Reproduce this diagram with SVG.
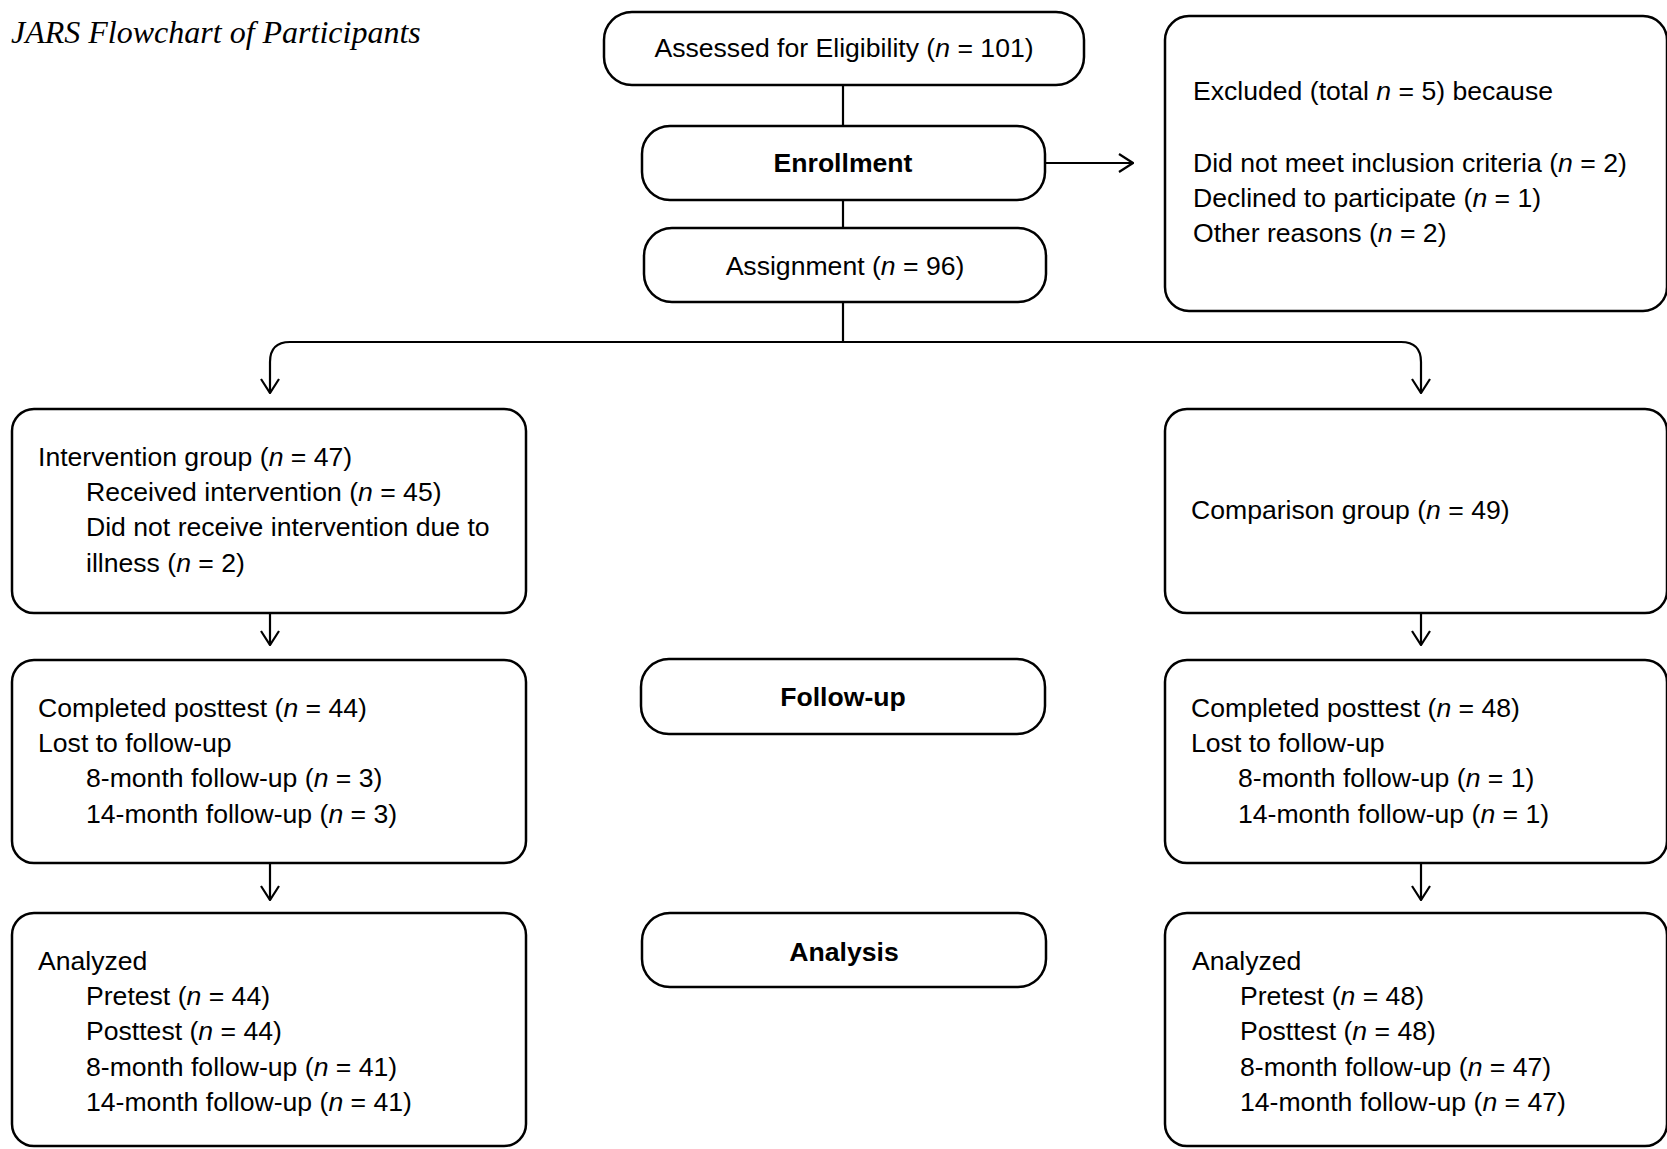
<svg xmlns="http://www.w3.org/2000/svg" width="1667" height="1149" viewBox="0 0 1667 1149">
<defs>
<style>
.box{fill:#fff;stroke:#000;stroke-width:2.5}
.t{font-family:"Liberation Sans",Arial,sans-serif;font-size:26.6px;fill:#000}
.c{text-anchor:middle}
.b{font-weight:bold}
.i{font-style:italic}
.ln{fill:none;stroke:#000;stroke-width:2.2}
.title{font-family:"Liberation Serif","Times New Roman",serif;font-style:italic;font-size:32px;fill:#000}
</style>
<marker id="ah" viewBox="0 0 20 20" refX="19" refY="10" markerWidth="20" markerHeight="20" markerUnits="userSpaceOnUse" orient="auto">
<path d="M5,1 L19,10 L5,19" fill="none" stroke="#000" stroke-width="2.2"/>
</marker>
</defs>
<rect width="1667" height="1149" fill="#fff"/>
<text class="title" x="11" y="43">JARS Flowchart of Participants</text>

<g id="connectors">
<path class="ln" d="M843,85 V126"/>
<path class="ln" d="M843,200 V228"/>
<path class="ln" d="M843,302 V342"/>
<path class="ln" d="M1045,163 H1133" marker-end="url(#ah)"/>
<path class="ln" d="M843,342 H290 Q270,342 270,362 V393" marker-end="url(#ah)"/>
<path class="ln" d="M843,342 H1401 Q1421,342 1421,362 V393" marker-end="url(#ah)"/>
<path class="ln" d="M270,613 V645" marker-end="url(#ah)"/>
<path class="ln" d="M270,863 V900" marker-end="url(#ah)"/>
<path class="ln" d="M1421,613 V645" marker-end="url(#ah)"/>
<path class="ln" d="M1421,863 V900" marker-end="url(#ah)"/>
</g>

<g id="assessed">
<rect class="box" x="604" y="12" width="480" height="73" rx="28"/>
<text class="t c" x="844" y="57">Assessed for Eligibility (<tspan class="i">n</tspan> = 101)</text>
</g>
<g id="enrollment">
<rect class="box" x="642" y="126" width="403" height="74" rx="28"/>
<text class="t c b" x="843" y="172">Enrollment</text>
</g>
<g id="assignment">
<rect class="box" x="644" y="228" width="402" height="74" rx="28"/>
<text class="t c" x="845" y="275">Assignment (<tspan class="i">n</tspan> = 96)</text>
</g>
<g id="excluded">
<rect class="box" x="1165" y="16" width="502" height="295" rx="24"/>
<text class="t" x="1193" y="100">Excluded (total <tspan class="i">n</tspan> = 5) because</text>
<text class="t" x="1193" y="172">Did not meet inclusion criteria (<tspan class="i">n</tspan> = 2)</text>
<text class="t" x="1193" y="207">Declined to participate (<tspan class="i">n</tspan> = 1)</text>
<text class="t" x="1193" y="242">Other reasons (<tspan class="i">n</tspan> = 2)</text>
</g>
<g id="intervention">
<rect class="box" x="12" y="409" width="514" height="204" rx="22"/>
<text class="t" x="38" y="466">Intervention group (<tspan class="i">n</tspan> = 47)</text>
<text class="t" x="86" y="501">Received intervention (<tspan class="i">n</tspan> = 45)</text>
<text class="t" x="86" y="536">Did not receive intervention due to</text>
<text class="t" x="86" y="572">illness (<tspan class="i">n</tspan> = 2)</text>
</g>
<g id="comparison">
<rect class="box" x="1165" y="409" width="502" height="204" rx="22"/>
<text class="t" x="1191" y="519">Comparison group (<tspan class="i">n</tspan> = 49)</text>
</g>
<g id="followup-left">
<rect class="box" x="12" y="660" width="514" height="203" rx="22"/>
<text class="t" x="38" y="717">Completed posttest (<tspan class="i">n</tspan> = 44)</text>
<text class="t" x="38" y="752">Lost to follow-up</text>
<text class="t" x="86" y="787">8-month follow-up (<tspan class="i">n</tspan> = 3)</text>
<text class="t" x="86" y="823">14-month follow-up (<tspan class="i">n</tspan> = 3)</text>
</g>
<g id="followup">
<rect class="box" x="641" y="659" width="404" height="75" rx="28"/>
<text class="t c b" x="843" y="706">Follow-up</text>
</g>
<g id="followup-right">
<rect class="box" x="1165" y="660" width="502" height="203" rx="22"/>
<text class="t" x="1191" y="717">Completed posttest (<tspan class="i">n</tspan> = 48)</text>
<text class="t" x="1191" y="752">Lost to follow-up</text>
<text class="t" x="1238" y="787">8-month follow-up (<tspan class="i">n</tspan> = 1)</text>
<text class="t" x="1238" y="823">14-month follow-up (<tspan class="i">n</tspan> = 1)</text>
</g>
<g id="analyzed-left">
<rect class="box" x="12" y="913" width="514" height="233" rx="22"/>
<text class="t" x="38" y="970">Analyzed</text>
<text class="t" x="86" y="1005">Pretest (<tspan class="i">n</tspan> = 44)</text>
<text class="t" x="86" y="1040">Posttest (<tspan class="i">n</tspan> = 44)</text>
<text class="t" x="86" y="1076">8-month follow-up (<tspan class="i">n</tspan> = 41)</text>
<text class="t" x="86" y="1111">14-month follow-up (<tspan class="i">n</tspan> = 41)</text>
</g>
<g id="analysis">
<rect class="box" x="642" y="913" width="404" height="74" rx="28"/>
<text class="t c b" x="844" y="961">Analysis</text>
</g>
<g id="analyzed-right">
<rect class="box" x="1165" y="913" width="502" height="233" rx="22"/>
<text class="t" x="1192" y="970">Analyzed</text>
<text class="t" x="1240" y="1005">Pretest (<tspan class="i">n</tspan> = 48)</text>
<text class="t" x="1240" y="1040">Posttest (<tspan class="i">n</tspan> = 48)</text>
<text class="t" x="1240" y="1076">8-month follow-up (<tspan class="i">n</tspan> = 47)</text>
<text class="t" x="1240" y="1111">14-month follow-up (<tspan class="i">n</tspan> = 47)</text>
</g>
</svg>
